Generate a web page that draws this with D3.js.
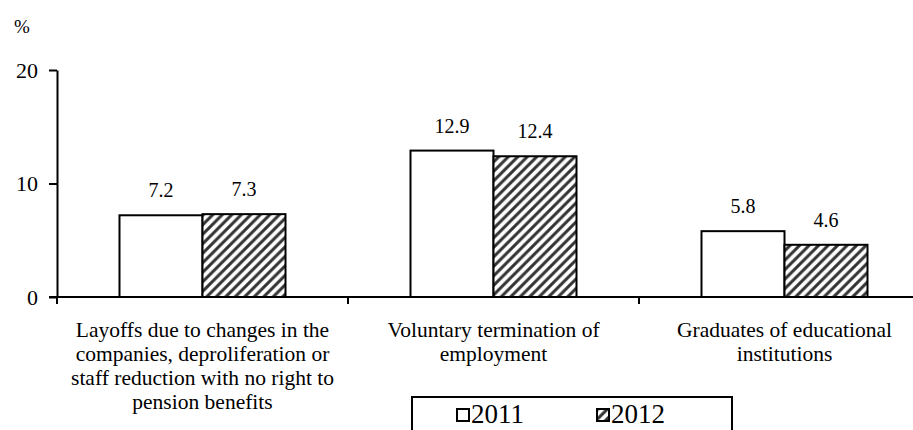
<!DOCTYPE html>
<html>
<head>
<meta charset="utf-8">
<script src="https://cdn.jsdelivr.net/npm/d3@7"></script>
<style>
  html, body { margin: 0; padding: 0; background: #fff; }
  svg { display: block; }
  svg text { font-family: "Liberation Serif", serif; }
</style>
</head>
<body>
<svg id="chart" width="913" height="430"></svg>
<script>
// Reasons for unemployment, share of the unemployed (%)
const categories = [
  ["Layoffs due to changes in the", "companies, deproliferation or", "staff reduction with no right to", "pension benefits"],
  ["Voluntary termination of", "employment"],
  ["Graduates of educational", "institutions"]
];
const seriesNames = ["2011", "2012"];
const values2011 = [7.2, 12.9, 5.8];
const values2012 = [7.3, 12.4, 4.6];
const yTicks = [0, 10, 20];

const FONT = "Liberation Serif";
const svg = d3.select("#chart");

// hatch pattern for the 2012 series
const defs = svg.append("defs");
const hw = 9.5;
const pat = defs.append("pattern")
  .attr("id", "hatch")
  .attr("patternUnits", "userSpaceOnUse")
  .attr("width", hw).attr("height", hw);
pat.append("rect").attr("width", hw).attr("height", hw).attr("fill", "#fff");
pat.append("path")
  .attr("d", `M${-hw/2},${hw/2} L${hw/2},${-hw/2} M0,${hw} L${hw},0 M${hw/2},${hw*1.5} L${hw*1.5},${hw/2}`)
  .attr("stroke", "#333").attr("stroke-width", 3);

const x0 = 57, yTop = 70, yBase = 297;
const idx = d3.range(categories.length);

const x = d3.scaleBand().domain(idx).range([x0, x0 + 291 * 3]).paddingInner(0).paddingOuter(0);
const xs = d3.scaleBand().domain(seriesNames).range([0, x.bandwidth()]).paddingInner(0).paddingOuter(0.753);
const y = d3.scaleLinear().domain([0, 20]).range([yBase, yTop]);

const series = [
  { name: "2011", values: values2011, fill: "#fff" },
  { name: "2012", values: values2012, fill: "url(#hatch)" }
];

// bars and value labels
series.forEach(s => {
  svg.append("g").selectAll("rect")
    .data(s.values)
    .join("rect")
    .attr("x", (d, i) => x(i) + xs(s.name))
    .attr("y", d => y(d))
    .attr("width", xs.bandwidth())
    .attr("height", d => yBase - y(d))
    .attr("fill", s.fill)
    .attr("stroke", "#000")
    .attr("stroke-width", 2);

  svg.append("g").selectAll("text")
    .data(s.values)
    .join("text")
    .attr("x", (d, i) => x(i) + xs(s.name) + xs.bandwidth() / 2)
    .attr("y", d => y(d) - 18)
    .attr("text-anchor", "middle")
    .style("font-family", FONT)
    .style("font-size", "20px")
    .attr("fill", "#000")
    .text(d => d.toFixed(1));
});

// y axis
const yAxis = svg.append("g")
  .attr("transform", `translate(${x0},0)`)
  .call(d3.axisLeft(y).tickValues(yTicks).tickSize(8).tickSizeOuter(0).tickPadding(11));
yAxis.select(".domain").attr("stroke", "#000").attr("stroke-width", 2);
yAxis.selectAll(".tick line").attr("stroke", "#000").attr("stroke-width", 2);
yAxis.selectAll(".tick text")
  .style("font-family", FONT)
  .style("font-size", "22px").attr("fill", "#000");

// x axis with ticks between categories
const xAxisG = svg.append("g").attr("transform", `translate(0,${yBase})`);
xAxisG.append("line")
  .attr("x1", x0 - 8).attr("x2", x.range()[1])
  .attr("stroke", "#000").attr("stroke-width", 2);
xAxisG.selectAll("line.sep")
  .data(idx)
  .join("line")
  .attr("class", "sep")
  .attr("x1", d => x(d)).attr("x2", d => x(d))
  .attr("y1", 0).attr("y2", 7)
  .attr("stroke", "#000").attr("stroke-width", 2);

// category labels
const lab = svg.append("g").selectAll("text")
  .data(categories)
  .join("text")
  .attr("text-anchor", "middle")
  .style("font-family", FONT)
  .style("font-size", "21.5px")
  .attr("fill", "#000");
lab.each(function(lines, i) {
  d3.select(this).selectAll("tspan")
    .data(lines)
    .join("tspan")
    .attr("x", x(i) + x.bandwidth() / 2)
    .attr("y", (d, j) => 337 + j * 24)
    .text(d => d);
});

// unit label
svg.append("text")
  .attr("x", 22).attr("y", 33)
  .style("font-family", FONT)
  .style("font-size", "19px")
  .attr("text-anchor", "middle")
  .text("%");

// legend
const leg = svg.append("g");
leg.append("rect")
  .attr("x", 412).attr("y", 397).attr("width", 320).attr("height", 50)
  .attr("fill", "none").attr("stroke", "#000").attr("stroke-width", 2);
const legX = [457, 597];
series.forEach((s, i) => {
  leg.append("rect")
    .attr("x", legX[i]).attr("y", 409).attr("width", 12).attr("height", 12)
    .attr("fill", s.fill).attr("stroke", "#000").attr("stroke-width", 2);
  leg.append("text")
    .attr("x", legX[i] + 14).attr("y", 423)
    .style("font-family", FONT)
    .style("font-size", "27px")
    .text(s.name);
});
</script>
</body>
</html>
